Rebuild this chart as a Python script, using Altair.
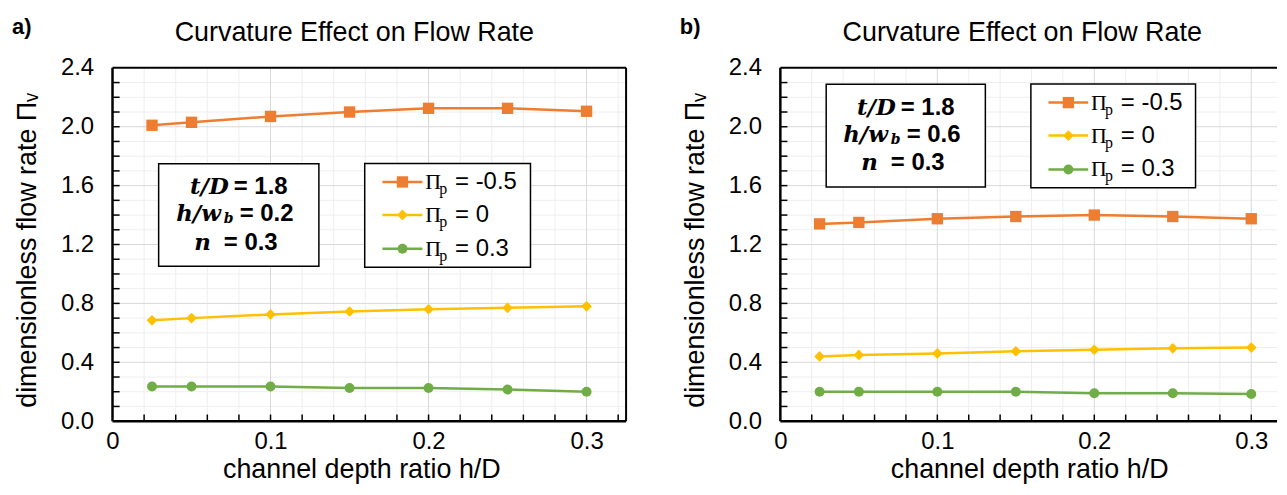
import altair as alt
import pandas as pd

# ---------------- data ----------------
x_vals = [0.025, 0.05, 0.1, 0.15, 0.2, 0.25, 0.3]
series_names = ["Πp = -0.5", "Πp = 0", "Πp = 0.3"]
legend_values = ["= -0.5", "= 0", "= 0.3"]

a_neg05 = [2.01, 2.03, 2.07, 2.10, 2.125, 2.125, 2.105]
a_0 = [0.685, 0.70, 0.725, 0.745, 0.76, 0.77, 0.78]
a_03 = [0.235, 0.235, 0.235, 0.225, 0.225, 0.215, 0.20]

b_neg05 = [1.34, 1.35, 1.375, 1.39, 1.40, 1.39, 1.375]
b_0 = [0.44, 0.45, 0.46, 0.475, 0.485, 0.495, 0.50]
b_03 = [0.20, 0.20, 0.20, 0.20, 0.19, 0.19, 0.185]

a_params = ["1.8", "0.2", "0.3"]
b_params = ["1.8", "0.6", "0.3"]

x_major = [0.1, 0.2, 0.3]
x_minor = [0.02, 0.04, 0.06, 0.08, 0.12, 0.14, 0.16, 0.18, 0.22, 0.24, 0.26, 0.28, 0.32]
x_ticks = [0.02, 0.04, 0.06, 0.08, 0.1, 0.12, 0.14, 0.16, 0.18, 0.2, 0.22, 0.24, 0.26, 0.28, 0.3, 0.32]
y_major = [0.4, 0.8, 1.2, 1.6, 2.0]
y_minor = [0.1, 0.2, 0.3, 0.5, 0.6, 0.7, 0.9, 1.0, 1.1, 1.3, 1.4, 1.5, 1.7, 1.8, 1.9, 2.1, 2.2, 2.3]
y_ticks = [0.1, 0.2, 0.3, 0.4, 0.5, 0.6, 0.7, 0.8, 0.9, 1.0, 1.1, 1.2, 1.3, 1.4, 1.5, 1.6,
           1.7, 1.8, 1.9, 2.0, 2.1, 2.2, 2.3]
y_labels = [0.0, 0.4, 0.8, 1.2, 1.6, 2.0, 2.4]
x_labels = [0, 0.1, 0.2, 0.3]

colors = ["#ED7D31", "#FFC000", "#70AD47"]
shapes = ["square", "diamond", "circle"]

SANS = "Liberation Sans"
SERIF = "Liberation Serif"
MATH = "DejaVu Serif"

YDOM = [0, 2.4]


def panel(tag, vals, params, box_top, xmax, width, right_border):
    xs = alt.Scale(domain=[0, xmax], nice=False, zero=False)
    ys = alt.Scale(domain=YDOM, nice=False, zero=False)
    X = lambda f: alt.X(f, scale=xs)
    Y = lambda f: alt.Y(f, scale=ys)

    df = pd.DataFrame(
        [{"x": x, "y": v, "s": name}
         for name, arr in zip(series_names, vals) for x, v in zip(x_vals, arr)]
    )

    xenc = alt.X("x:Q", scale=xs, axis=alt.Axis(
        values=x_labels, format="~g", grid=False, ticks=False, domain=False, labelFlush=False,
        labelFontSize=24, labelPadding=8, labelFont=SANS, labelColor="#000",
        title="channel depth ratio h/D", titleFontSize=27, titleFont=SANS,
        titleFontWeight="normal", titleColor="#000", titlePadding=4, titleX=250))
    yenc = alt.Y("y:Q", scale=ys, axis=alt.Axis(
        values=y_labels, format=".1f", grid=False, ticks=False, domain=False, labelFlush=False,
        labelFontSize=24, labelPadding=19, labelFont=SANS, labelColor="#000",
        title="dimensionless flow rate Πᵥ", titleFontSize=27, titleFont=SANS,
        titleFontWeight="normal", titleColor="#000", titlePadding=19, titleY=183))

    xmn = [v for v in x_minor if v <= xmax]
    xtk = [v for v in x_ticks if v <= xmax]

    # grid
    gmx = alt.Chart(pd.DataFrame({"x": xmn})).mark_rule(color="#eeeeee", strokeWidth=1).encode(x=X("x:Q"))
    gmy = alt.Chart(pd.DataFrame({"y": y_minor})).mark_rule(color="#eeeeee", strokeWidth=1).encode(y=Y("y:Q"))
    gMx = alt.Chart(pd.DataFrame({"x": x_major})).mark_rule(color="#d9d9d9", strokeWidth=1).encode(x=X("x:Q"))
    gMy = alt.Chart(pd.DataFrame({"y": y_major})).mark_rule(color="#d9d9d9", strokeWidth=1).encode(y=Y("y:Q"))

    # inward ticks
    tx = alt.Chart(pd.DataFrame({"x": xtk, "y": 0.0, "y2": 0.045})).mark_rule(
        color="#000", strokeWidth=1.5).encode(x=X("x:Q"), y=Y("y:Q"), y2="y2:Q")
    ty = alt.Chart(pd.DataFrame({"y": y_ticks, "x": 0.0, "x2": 0.0045})).mark_rule(
        color="#000", strokeWidth=1.5).encode(y=Y("y:Q"), x=X("x:Q"), x2="x2:Q")

    # plot border
    bx = [0, 0, 0]
    bx2 = [xmax, 0, xmax]
    by = [0, 0, 2.4]
    by2 = [0, 2.4, 2.4]
    bw = [2.5, 2.5, 2]
    if right_border:
        bx.append(xmax); bx2.append(xmax); by.append(0); by2.append(2.4); bw.append(2)
    bdf = pd.DataFrame({"x": bx, "x2": bx2, "y": by, "y2": by2, "w": bw})
    border = alt.Chart(bdf).mark_rule(color="#000").encode(
        x=X("x:Q"), x2="x2:Q", y=Y("y:Q"), y2="y2:Q",
        strokeWidth=alt.StrokeWidth("w:Q", scale=None, legend=None))

    cscale = alt.Scale(domain=series_names, range=colors)
    sscale = alt.Scale(domain=series_names, range=shapes)
    zscale = alt.Scale(domain=series_names, range=[130, 100, 105])

    lines = alt.Chart(df).mark_line(strokeWidth=2.5).encode(
        x=xenc, y=yenc, color=alt.Color("s:N", scale=cscale, legend=None), detail="s:N")
    pts = alt.Chart(df).mark_point(filled=True, opacity=1).encode(
        x=X("x:Q"), y=Y("y:Q"),
        color=alt.Color("s:N", scale=cscale, legend=None),
        shape=alt.Shape("s:N", scale=sscale, legend=None),
        size=alt.Size("s:N", scale=zscale, legend=None))

    # annotation box
    abox = alt.Chart(pd.DataFrame({"x": [0.0292], "x2": [0.1306], "y": [box_top], "y2": [box_top - 0.697]})).mark_rect(
        fill="white", stroke="#000", strokeWidth=1.5).encode(x=X("x:Q"), x2="x2:Q", y=Y("y:Q"), y2="y2:Q")
    lbox = alt.Chart(pd.DataFrame({"x": [0.1596], "x2": [0.2645], "y": [box_top + 0.002], "y2": [box_top - 0.703]})).mark_rect(
        fill="white", stroke="#000", strokeWidth=1.5).encode(x=X("x:Q"), x2="x2:Q", y=Y("y:Q"), y2="y2:Q")

    cx = 0.0799
    r1, r2, r3 = box_top - 0.158, box_top - 0.342, box_top - 0.537
    ann = pd.DataFrame({"x": [cx], "r1": [r1], "r2": [r2], "r3": [r3],
                        "v1": ["= " + params[0]], "v2": ["= " + params[1]], "v3": ["= " + params[2]]})
    base = alt.Chart(ann)
    mstyle = dict(font=MATH, fontStyle="italic", fontWeight="bold", fontSize=23, baseline="middle", color="#000")
    vstyle = dict(font=SANS, fontWeight="bold", fontSize=24, baseline="middle", color="#000", align="left")
    m1 = base.mark_text(text="t/D", align="right", dx=-10, **mstyle).encode(x=X("x:Q"), y=Y("r1:Q"))
    m2 = base.mark_text(text="h/w", align="right", dx=-18, **mstyle).encode(x=X("x:Q"), y=Y("r2:Q"))
    m2b = base.mark_text(text="b", align="left", dx=-15, dy=5, font=MATH, fontStyle="italic", fontWeight="bold",
                         fontSize=14, baseline="middle", color="#000").encode(x=X("x:Q"), y=Y("r2:Q"))
    m3 = base.mark_text(text="n", align="right", dx=-28, **mstyle).encode(x=X("x:Q"), y=Y("r3:Q"))
    v1 = base.mark_text(dx=-5, **vstyle).encode(x=X("x:Q"), y=Y("r1:Q"), text="v1:N")
    v2 = base.mark_text(dx=1, **vstyle).encode(x=X("x:Q"), y=Y("r2:Q"), text="v2:N")
    v3 = base.mark_text(dx=-15, **vstyle).encode(x=X("x:Q"), y=Y("r3:Q"), text="v3:N")

    # custom legend
    l1, l2, l3 = box_top - 0.124, box_top - 0.348, box_top - 0.578
    leg = pd.DataFrame({"s": series_names, "y": [l1, l2, l3], "x": 0.1708, "x2": 0.1961,
                        "xm": 0.1835, "xp": 0.1979, "v": legend_values})
    lrule = alt.Chart(leg).mark_rule(strokeWidth=2.5).encode(
        x=X("x:Q"), x2="x2:Q", y=Y("y:Q"), color=alt.Color("s:N", scale=cscale, legend=None))
    lpts = alt.Chart(leg).mark_point(filled=True, opacity=1).encode(
        x=X("xm:Q"), y=Y("y:Q"),
        color=alt.Color("s:N", scale=cscale, legend=None),
        shape=alt.Shape("s:N", scale=sscale, legend=None),
        size=alt.Size("s:N", scale=alt.Scale(domain=series_names, range=[130, 60, 105]), legend=None))
    lpi = alt.Chart(leg).mark_text(text="Π", font=SERIF, fontSize=22, align="left", baseline="middle",
                                   color="#000").encode(x=X("xp:Q"), y=Y("y:Q"))
    lsub = alt.Chart(leg).mark_text(text="p", font=SERIF, fontSize=16, align="left", baseline="middle",
                                    dx=14, dy=7, color="#000").encode(x=X("xp:Q"), y=Y("y:Q"))
    lval = alt.Chart(leg).mark_text(font=SANS, fontSize=24, align="left", baseline="middle", dx=30,
                                    color="#000").encode(x=X("xp:Q"), y=Y("y:Q"), text="v:N")

    tdf = pd.DataFrame({"t": [tag], "title": ["Curvature Effect on Flow Rate"]})
    tagm = alt.Chart(tdf).mark_text(
        font=SANS, fontWeight="bold", fontSize=22, align="left", baseline="alphabetic", color="#000").encode(
        x=alt.value(-101), y=alt.value(-34), text="t:N")
    ttl = alt.Chart(tdf).mark_text(
        font=SANS, fontSize=27, align="center", baseline="alphabetic", color="#000").encode(
        x=alt.value(243), y=alt.value(-27), text="title:N")

    return alt.layer(
        gmx, gmy, gMx, gMy, tx, ty, lines, pts, border, abox, lbox,
        m1, m2, m2b, m3, v1, v2, v3,
        lrule, lpts, lpi, lsub, lval, tagm, ttl
    ).properties(width=width, height=355)


left = panel("a)", [a_neg05, a_0, a_03], a_params, 1.749, 0.325, 516, True)
right = panel("b)", [b_neg05, b_0, b_03], b_params, 2.288, 0.3164, 499, False)

chart = alt.hconcat(left, right, spacing=52).configure_view(
    strokeWidth=0
).properties(padding={"left": 4, "top": 7, "right": 0, "bottom": 0})

chart.save("out.html", embed_options={"renderer": "svg", "actions": False})
